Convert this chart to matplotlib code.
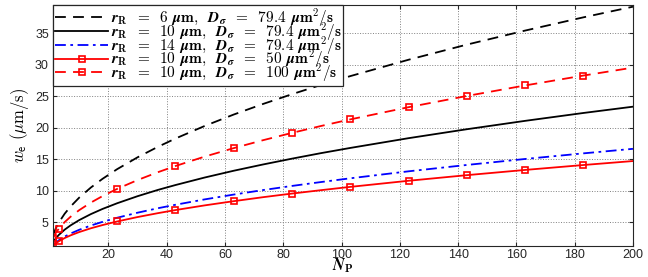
import matplotlib
matplotlib.use("Agg")
import matplotlib.pyplot as plt

plt.rcParams['mathtext.fontset'] = 'cm'
plt.rcParams['font.family'] = ['Liberation Sans', 'DejaVu Sans']

N_P = [1, 2, 3, 5, 7, 10, 14, 18, 23, 30, 37, 43, 53, 63, 73, 83, 93, 103,
       123, 143, 163, 183, 200]

w_r6_D79 = [2.96, 4.10, 4.98, 6.37, 7.50, 8.93, 10.53, 11.91, 13.44, 15.32, 16.99,
            18.30, 20.29, 22.11, 23.78, 25.34, 26.82, 28.21, 30.81, 33.21, 35.44,
            37.54, 39.23]
w_r10_D79 = [1.81, 2.49, 3.01, 3.84, 4.51, 5.36, 6.31, 7.13, 8.03, 9.15, 10.15,
             10.92, 12.11, 13.19, 14.18, 15.11, 15.99, 16.81, 18.36, 19.78, 21.11,
             22.36, 23.36]
w_r14_D79 = [1.29, 1.77, 2.15, 2.74, 3.22, 3.82, 4.50, 5.08, 5.73, 6.53, 7.24,
             7.79, 8.64, 9.41, 10.12, 10.78, 11.40, 11.99, 13.10, 14.11, 15.06,
             15.95, 16.67]
w_r10_D50 = [1.25, 1.67, 2.00, 2.51, 2.93, 3.46, 4.06, 4.57, 5.14, 5.84, 6.46,
             6.95, 7.69, 8.36, 8.99, 9.57, 10.11, 10.63, 11.60, 12.49, 13.32,
             14.10, 14.73]
w_r10_D100 = [2.49, 3.34, 4.00, 5.04, 5.88, 6.94, 8.14, 9.17, 10.31, 11.71, 12.96,
              13.94, 15.43, 16.78, 18.03, 19.20, 20.30, 21.34, 23.28, 25.06, 26.73,
              28.30, 29.56]
marker_N = [1, 3, 23, 43, 63, 83, 103, 123, 143, 163, 183]

r_values = ['6', '10', '14', '10', '10']
D_values = ['79.4', '79.4', '79.4', '50', '100']


def make_label(r, d):
    return (r'$\mathbfit{r}_{\mathbf{R}}\;\;\mathbf{=}\;\;\mathbf{' + r +
            r'}\;\,\mathbfit{\mu}\mathbf{m},\;\;\mathbfit{D}_{\mathbfit{\sigma}}\;\;\mathbf{=}\;\;\mathbf{' +
            d + r'}\;\,\mathbfit{\mu}\mathbf{m^2/s}$')


labels = [make_label(r, d) for r, d in zip(r_values, D_values)]

fig = plt.figure(figsize=(6.48, 2.77), dpi=100)
ax = fig.add_axes([0.0818, 0.112, 0.895, 0.870])

mk_idx = [N_P.index(n) for n in marker_N]
lw = 1.3
ax.plot(N_P, w_r6_D79, color='black', ls=(0, (6, 4)), lw=lw, label=labels[0])
ax.plot(N_P, w_r10_D79, color='black', ls='-', lw=lw, label=labels[1])
ax.plot(N_P, w_r14_D79, color='#0000ff', ls=(0, (6, 2.5, 1.5, 2.5)), lw=lw, label=labels[2])
ax.plot(N_P, w_r10_D50, color='red', ls='-', lw=lw, marker='s', markersize=5,
        markerfacecolor='none', markeredgewidth=1.2, markevery=mk_idx, label=labels[3])
ax.plot(N_P, w_r10_D100, color='red', ls=(0, (6, 4)), lw=lw, marker='s', markersize=5,
        markerfacecolor='none', markeredgewidth=1.2, markevery=mk_idx, label=labels[4])

ax.set_xlim(1, 200)
ax.set_ylim(1.25, 39.5)
ax.set_xticks([20, 40, 60, 80, 100, 120, 140, 160, 180, 200])
ax.set_yticks([5, 10, 15, 20, 25, 30, 35])
ax.tick_params(direction='in', top=True, right=True, labelsize=9, length=3,
               colors='#262626', pad=3)
ax.tick_params(axis='x', pad=2.5)
ax.grid(True, ls=':', color='#808080', lw=0.7)
for s in ax.spines.values():
    s.set_color('#262626')
    s.set_linewidth(0.8)

ax.set_xlabel(r'$\mathbfit{N}_{\mathbf{P}}$', fontsize=11.5)
ax.xaxis.label.set_verticalalignment('center')
ax.xaxis.set_label_coords(0.5, -0.083)
ax.set_ylabel(r'$w_{\mathsf{e}}\ (\mu\mathrm{m/s})$', fontsize=12, labelpad=3)

leg = ax.legend(loc='upper left', fontsize=11, handlelength=3.5, borderaxespad=0,
                frameon=True, fancybox=False, edgecolor='#262626', framealpha=1,
                borderpad=0.12, labelspacing=-0.56, handletextpad=0.15)
leg.get_frame().set_linewidth(0.9)

fig.savefig('out.png', dpi=100)
